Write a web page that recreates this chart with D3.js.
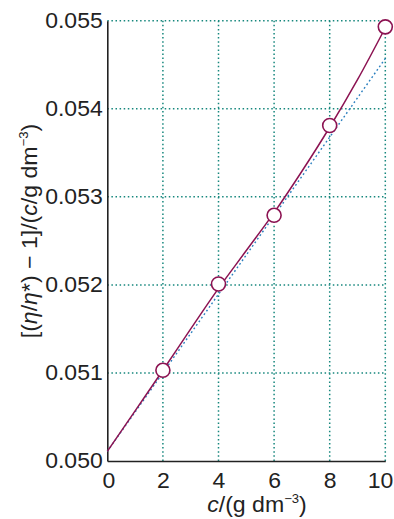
<!DOCTYPE html>
<html><head><meta charset="utf-8">
<script src="https://cdn.jsdelivr.net/npm/d3@7"></script>
<style>body{margin:0;background:#fff;} svg{display:block;}</style>
</head><body>
<svg id="c" width="394" height="519"></svg>
<script>
// Data
const xTicks = [0, 2, 4, 6, 8, 10];
const yTicks = [0.050, 0.051, 0.052, 0.053, 0.054, 0.055];
const pointsX = [2, 4, 6, 8, 10];
const pointsY = [0.05103, 0.05201, 0.05279, 0.05381, 0.05493];
const curveX = [0, 1, 2, 3, 4, 5, 6, 7, 8, 9, 10];
const curveY = [0.05011, 0.05057, 0.05103, 0.05150, 0.05196, 0.05239, 0.05282, 0.05329, 0.05379, 0.05433, 0.05492];
const lineX = [0, 10];
const lineY = [0.05011, 0.05457];

const svg = d3.select("#c");
const m = {l: 107.3, r: 385.3, t: 20.7, b: 461};
const x = d3.scaleLinear().domain([0, 10]).range([m.l, m.r]);
const y = d3.scaleLinear().domain([0.050, 0.055]).range([m.b, m.t]);
const font = "'Liberation Sans', Arial, sans-serif";
const grid = "#16877d";
const ink = "#222";

// grid
svg.append("g").selectAll("line").data(xTicks.filter(d => d > 0)).join("line")
  .attr("x1", d => x(d)).attr("x2", d => x(d)).attr("y1", m.t).attr("y2", m.b)
  .attr("stroke", grid).attr("stroke-width", 1.5).attr("stroke-dasharray", "1.5,2.6");
svg.append("g").selectAll("line").data(yTicks.filter(d => d > 0.050)).join("line")
  .attr("x1", m.l).attr("x2", m.r).attr("y1", d => y(d)).attr("y2", d => y(d))
  .attr("stroke", grid).attr("stroke-width", 1.5).attr("stroke-dasharray", "1.5,2.6");

// axes
const xAxis = svg.append("g").attr("transform", `translate(0,${m.b})`)
  .call(d3.axisBottom(x).tickValues(xTicks).tickSize(0).tickPadding(11.5).tickFormat(d3.format("d")));
xAxis.select(".domain").attr("stroke", ink).attr("stroke-width", 1.6);
xAxis.selectAll("text").attr("font-family", font).attr("font-size", 21.5).attr("fill", ink)
  .attr("transform", "scale(1.07,1)");
xAxis.selectAll(".tick").filter(d => d === 10).select("text").attr("x", -5);
xAxis.selectAll(".tick").filter(d => d === 0).select("text").attr("x", 1);

const yAxis = svg.append("g").attr("transform", `translate(${m.l},0)`)
  .call(d3.axisLeft(y).tickValues(yTicks).tickSize(0).tickPadding(4.3).tickFormat(d3.format(".3f")));
yAxis.select(".domain").attr("stroke", ink).attr("stroke-width", 1.6);
yAxis.selectAll("text").attr("font-family", font).attr("font-size", 21.5).attr("fill", ink)
  .attr("transform", "scale(1.07,1)");

// dashed line
svg.append("path").datum(lineX.map((d, i) => [d, lineY[i]]))
  .attr("d", d3.line().x(d => x(d[0])).y(d => y(d[1])))
  .attr("fill", "none").attr("stroke", "#2a7fbf").attr("stroke-width", 1.4).attr("stroke-dasharray", "1.8,2.6");

// fit curve
svg.append("path").datum(curveX.map((d, i) => [d, curveY[i]]))
  .attr("d", d3.line().x(d => x(d[0])).y(d => y(d[1])).curve(d3.curveCatmullRom))
  .attr("fill", "none").attr("stroke", "#8c1352").attr("stroke-width", 1.5);

// points
svg.append("g").selectAll("circle").data(pointsX.map((d, i) => [d, pointsY[i]])).join("circle")
  .attr("cx", d => x(d[0])).attr("cy", d => y(d[1])).attr("r", 7)
  .attr("fill", "#fff").attr("stroke", "#8c1352").attr("stroke-width", 1.6);

// x label
const xl = svg.append("text").attr("transform", "translate(257,512) scale(1.05,1)").attr("text-anchor", "middle")
  .attr("font-family", font).attr("font-size", 22).attr("fill", ink);
xl.append("tspan").attr("font-style", "italic").text("c");
xl.append("tspan").text("/(g dm");
xl.append("tspan").attr("font-size", 12.5).attr("dy", -9).text("−3");
xl.append("tspan").attr("dy", 9).text(")");

// y label
const yl = svg.append("text").attr("transform", "translate(37,231) rotate(-90) scale(1.05,1)").attr("text-anchor", "middle")
  .attr("font-family", font).attr("font-size", 22).attr("fill", ink);
yl.append("tspan").text("[(");
yl.append("tspan").attr("font-style", "italic").text("η");
yl.append("tspan").text("/");
yl.append("tspan").attr("font-style", "italic").text("η");
yl.append("tspan").text("*) − 1]/(");
yl.append("tspan").attr("font-style", "italic").text("c");
yl.append("tspan").text("/g dm");
yl.append("tspan").attr("font-size", 12.5).attr("dy", -9).text("−3");
yl.append("tspan").attr("dy", 9).text(")");
</script>
</body></html>
